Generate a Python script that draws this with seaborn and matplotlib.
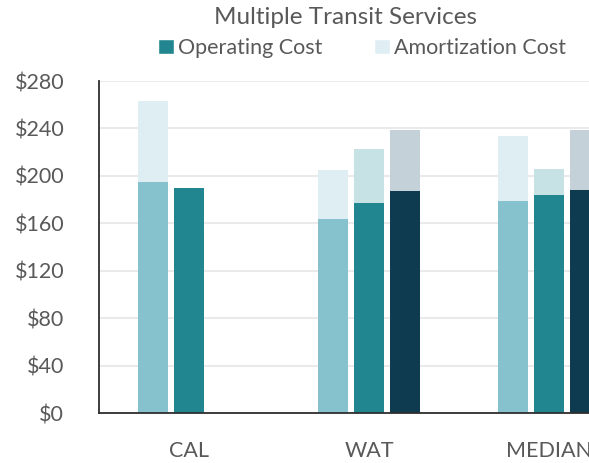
import numpy as np
import pandas as pd
import matplotlib
matplotlib.use("Agg")
import matplotlib.pyplot as plt
from matplotlib.patches import Patch
import seaborn as sns

categories = ["CAL", "WAT", "MEDIAN"]
series = ["Series 1", "Series 2", "Series 3"]
operating = {
    "Series 1": [195, 164, 179],
    "Series 2": [190, 177, 184],
    "Series 3": [np.nan, 187, 188],
}
amortization = {
    "Series 1": [68, 41, 55],
    "Series 2": [0, 46, 22],
    "Series 3": [np.nan, 52, 51],
}
y_ticks = [0, 40, 80, 120, 160, 200, 240, 280]

op_colors = ["#86C2CE", "#21868F", "#0F3B50"]
am_colors = ["#DFEEF2", "#C6E2E5", "#C5D1D8"]

rows = []
for s in series:
    for c, o, a in zip(categories, operating[s], amortization[s]):
        rows.append({"category": c, "series": s, "operating": o, "total": o + a})
df = pd.DataFrame(rows)

sns.set_style("white")
plt.rcParams["font.family"] = ["Lato", "DejaVu Sans"]

fig = plt.figure(figsize=(5.89, 4.63), dpi=100)
ax = fig.add_axes([99 / 589, 50 / 463, 540 / 589, 332 / 463])

common = dict(x="category", hue="series", order=categories, hue_order=series,
              width=0.6, gap=1 / 6, errorbar=None, saturation=1, legend=False,
              linewidth=0, ax=ax)
sns.barplot(data=df, y="total", palette=am_colors, **common)
sns.barplot(data=df, y="operating", palette=op_colors, **common)

ax.set_xlim(-0.5, 2.5)
ax.set_ylim(0, 280)
ax.set_yticks(y_ticks)
ax.set_yticklabels([f"${v}" for v in y_ticks])
ax.yaxis.grid(True, color="#EAEAEA", linewidth=1.5)
ax.set_axisbelow(True)
ax.set_xlabel("")
ax.set_ylabel("")
for side in ["top", "right"]:
    ax.spines[side].set_visible(False)
for side in ["left", "bottom"]:
    ax.spines[side].set_color("#2E2E2E")
    ax.spines[side].set_linewidth(1.3)
ax.tick_params(axis="y", length=0, colors="#595959", labelsize=15.5, pad=25)
ax.tick_params(axis="x", length=0, colors="#595959", labelsize=15.5, pad=20)

fig.text(346 / 589, 1 - 17 / 463, "Multiple Transit Services", ha="center", va="center",
         fontsize=17.5, color="#595959")
handles = [Patch(facecolor="#21868F", label="Operating Cost"),
           Patch(facecolor="#DFEEF2", label="Amortization Cost")]
fig.legend(handles=handles, loc="center", bbox_to_anchor=(362 / 589, 1 - 48 / 463),
           ncol=2, frameon=False, fontsize=15.5, labelcolor="#595959",
           handlelength=0.75, handleheight=0.75, handletextpad=0.2, columnspacing=2.4)

fig.savefig("out.png", dpi=100)
